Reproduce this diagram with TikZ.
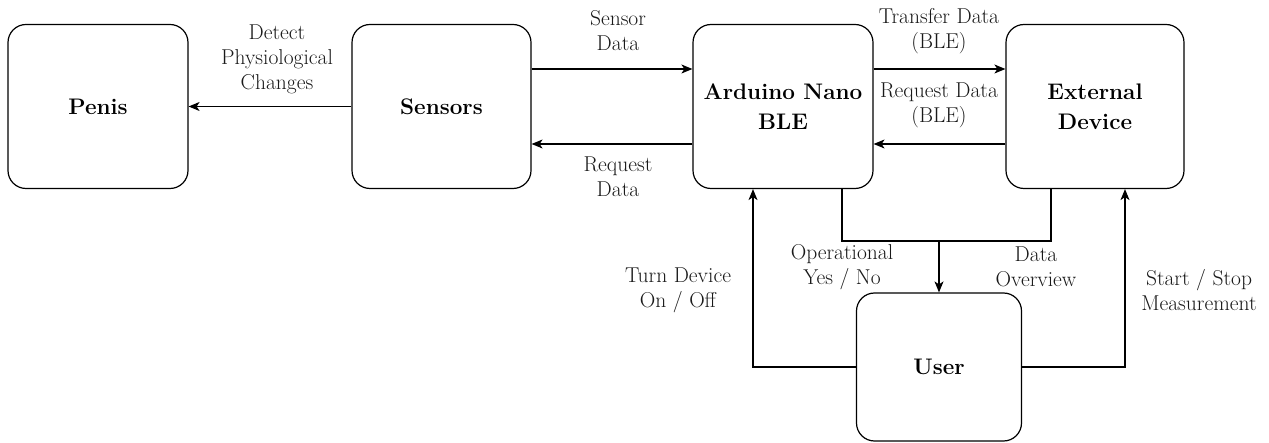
\documentclass[tikz,border=0pt]{standalone}
\usetikzlibrary{arrows.meta}
\tikzset{
  box/.style={draw, line width=1.2pt, rounded corners=18pt, minimum height=164pt, inner sep=0pt, align=center, font=\fontsize{22.5}{30}\selectfont\bfseries},
  lbl/.style={inner sep=0pt, align=center, font=\fontsize{21.5}{25}\selectfont, text=black!90},
  conn/.style={line width=1.2pt},
  arr/.style={conn, -{Stealth[length=11pt,width=9pt,inset=3pt]}}
}
\begin{document}
\begin{tikzpicture}[x=1pt,y=-1pt]
\useasboundingbox (0,0) rectangle (1269,443);
\node[box, minimum width=180pt] (penis) at (98,106.5) {Penis};
\node[box, minimum width=179pt] (sensors) at (441.5,106.5) {Sensors};
\node[box, minimum width=180pt] (ard) at (783,106.5) {Arduino Nano\\BLE};
\node[box, minimum width=178pt] (ext) at (1095,106.5) {External\\Device};
\node[box, minimum width=165pt, minimum height=148pt] (user) at (939,367) {User};
\coordinate (j) at (939,241);

\draw[arr] (sensors.west) -- (penis.east);
\draw[arr] ([yshift=37.5pt]sensors.east) -- ([yshift=37.5pt]ard.west);
\draw[arr] ([yshift=-37.5pt]ard.west) -- ([yshift=-37.5pt]sensors.east);
\draw[arr] ([yshift=37.5pt]ard.east) -- ([yshift=37.5pt]ext.west);
\draw[arr] ([yshift=-37.5pt]ext.west) -- ([yshift=-37.5pt]ard.east);
\draw[conn] ([xshift=59pt]ard.south) |- (j) -| ([xshift=-44pt]ext.south);
\draw[arr] (j) -- (user.north);
\draw[arr] (user.west) -| ([xshift=-30pt]ard.south);
\draw[arr] (user.east) -| ([xshift=30pt]ext.south);

\node[lbl] (l1) at (277,59) {Detect\\Physiological\\Changes};
\node[lbl] (l2) at (618,31) {Sensor\\Data};
\node[lbl] (l3) at (618,177) {Request\\Data};
\node[lbl] (l4) at (939,31) {Transfer Data\\(BLE)};
\node[lbl] (l5) at (939,105) {Request Data\\(BLE)};
\node[lbl] (l6) at (842,267) {Operational\\Yes / No};
\node[lbl] (l7) at (1036,267) {Data\\Overview};
\node[lbl] (l8) at (678,290) {Turn Device\\On / Off};
\node[lbl] (l9) at (1199,290) {Start / Stop\\Measurement};
\end{tikzpicture}
\end{document}
